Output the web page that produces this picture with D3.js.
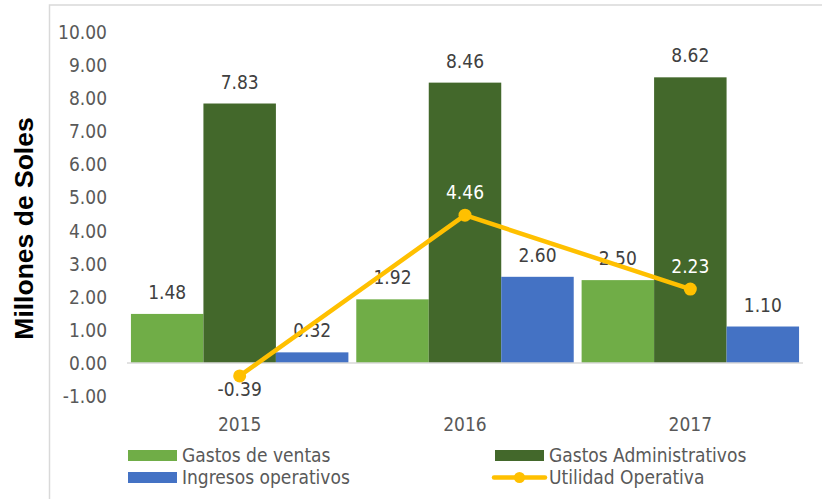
<!DOCTYPE html>
<html>
<head>
<meta charset="utf-8">
<script src="https://cdn.jsdelivr.net/npm/d3@7"></script>
<style>
  body { margin: 0; background: #fff; }
  svg text {
    font-family: 'DejaVu Sans Condensed', 'DejaVu Sans', sans-serif;
    font-stretch: condensed;
  }
</style>
</head>
<body>
<svg class="chart"></svg>
<script>
// Data
var years = ['2015', '2016', '2017'];
var gastosVentas = [1.48, 1.92, 2.50];
var gastosAdmin = [7.83, 8.46, 8.62];
var ingresosOp = [0.32, 2.60, 1.10];
var utilidadOp = [-0.39, 4.46, 2.23];
var yTicks = [-1, 0, 1, 2, 3, 4, 5, 6, 7, 8, 9, 10];

var barSeries = [
  {name: 'Gastos de ventas', values: gastosVentas, color: '#70AD47'},
  {name: 'Gastos Administrativos', values: gastosAdmin, color: '#43682B'},
  {name: 'Ingresos operativos', values: ingresosOp, color: '#4472C4'}
];
var lineColor = '#FFC000';

// Global setup
var width = 822;
var height = 499;
var plot = {left: 127, right: 803, top: 31.6, bottom: 396.1};

var svg = d3.select('.chart')
  .attr('width', width)
  .attr('height', height);

// Chart frame
svg.append('rect')
  .attr('x', 49.5)
  .attr('y', 5)
  .attr('width', width)
  .attr('height', height)
  .attr('fill', 'none')
  .attr('stroke', '#d9d9d9')
  .attr('stroke-width', 1.5);

// Scales
var x = d3.scaleBand()
  .domain(years)
  .range([plot.left, plot.right])
  .paddingInner(0.035)
  .paddingOuter(0.0175);

var xSub = d3.scaleBand()
  .domain(barSeries.map(function (d) { return d.name; }))
  .range([0, x.bandwidth()]);

var y = d3.scaleLinear()
  .domain([-1, 10])
  .range([plot.bottom, plot.top]);

// Y axis labels (no line, no ticks), plain hyphen for negatives
var yAxis = d3.axisLeft(y)
  .tickValues(yTicks)
  .tickFormat(function (d) { return d.toFixed(2); })
  .tickSize(0)
  .tickPadding(0);

var yG = svg.append('g')
  .attr('transform', 'translate(107,0)')
  .call(yAxis);
yG.select('.domain').remove();
yG.selectAll('text')
  .attr('fill', '#595959')
  .attr('font-size', 19)
  .attr('dy', '0.35em');

// Axis title
svg.append('text')
  .attr('transform', 'translate(33,228.5) rotate(-90)')
  .attr('text-anchor', 'middle')
  .style('font-family', "'Liberation Sans', Arial, sans-serif")
  .style('font-stretch', 'normal')
  .attr('font-weight', 'bold')
  .attr('font-size', 26.5)
  .attr('fill', '#000')
  .text('Millones de Soles');

// Bars
var groups = svg.selectAll('.series')
  .data(barSeries)
  .enter()
  .append('g')
  .attr('class', 'series');

groups.selectAll('rect')
  .data(function (s) {
    return s.values.map(function (v, i) { return {name: s.name, year: years[i], value: v, color: s.color}; });
  })
  .enter()
  .append('rect')
  .attr('x', function (d) { return x(d.year) + xSub(d.name); })
  .attr('y', function (d) { return y(Math.max(0, d.value)); })
  .attr('width', xSub.bandwidth())
  .attr('height', function (d) { return Math.abs(y(d.value) - y(0)); })
  .attr('fill', function (d) { return d.color; });

// Zero line
svg.append('line')
  .attr('x1', plot.left)
  .attr('x2', plot.right)
  .attr('y1', y(0))
  .attr('y2', y(0))
  .attr('stroke', '#d9d9d9')
  .attr('stroke-width', 1.5);

// Bar labels
groups.selectAll('.bar-label')
  .data(function (s) {
    return s.values.map(function (v, i) { return {name: s.name, year: years[i], value: v}; });
  })
  .enter()
  .append('text')
  .attr('class', 'bar-label')
  .attr('x', function (d) { return x(d.year) + xSub(d.name) + xSub.bandwidth() / 2; })
  .attr('y', function (d) { return y(d.value) - 15; })
  .attr('text-anchor', 'middle')
  .attr('font-size', 19)
  .attr('fill', '#404040')
  .text(function (d) { return d.value.toFixed(2); });

// Line series
var cx = function (d, i) { return x(years[i]) + x.bandwidth() / 2; };

svg.append('path')
  .datum(utilidadOp)
  .attr('fill', 'none')
  .attr('stroke', lineColor)
  .attr('stroke-width', 4.5)
  .attr('stroke-linejoin', 'round')
  .attr('d', d3.line().x(cx).y(function (d) { return y(d); }));

svg.selectAll('.dot')
  .data(utilidadOp)
  .enter()
  .append('circle')
  .attr('class', 'dot')
  .attr('cx', cx)
  .attr('cy', function (d) { return y(d); })
  .attr('r', 6.5)
  .attr('fill', lineColor);

svg.selectAll('.line-label')
  .data(utilidadOp)
  .enter()
  .append('text')
  .attr('class', 'line-label')
  .attr('x', cx)
  .attr('y', function (d) { return d < 0 ? y(d) + 20 : y(d) - 16; })
  .attr('text-anchor', 'middle')
  .attr('font-size', 19)
  .attr('fill', function (d) { return d < 0 ? '#404040' : '#ffffff'; })
  .text(function (d) { return d.toFixed(2); });

// Category labels
svg.selectAll('.year')
  .data(years)
  .enter()
  .append('text')
  .attr('class', 'year')
  .attr('x', function (d) { return x(d) + x.bandwidth() / 2; })
  .attr('y', 431)
  .attr('text-anchor', 'middle')
  .attr('font-size', 19)
  .attr('fill', '#595959')
  .text(function (d) { return d; });

// Legend
var legendItems = [
  {name: barSeries[0].name, color: barSeries[0].color, type: 'bar', x: 128, y: 455.5},
  {name: barSeries[1].name, color: barSeries[1].color, type: 'bar', x: 495, y: 455.5},
  {name: barSeries[2].name, color: barSeries[2].color, type: 'bar', x: 128, y: 477.5},
  {name: 'Utilidad Operativa', color: lineColor, type: 'line', x: 495, y: 477.5}
];

var legend = svg.selectAll('.legend')
  .data(legendItems)
  .enter()
  .append('g')
  .attr('class', 'legend')
  .attr('transform', function (d) { return 'translate(' + d.x + ',' + d.y + ')'; });

legend.filter(function (d) { return d.type === 'bar'; })
  .append('rect')
  .attr('x', 0)
  .attr('y', -5.5)
  .attr('width', 49)
  .attr('height', 11)
  .attr('fill', function (d) { return d.color; });

var lineItem = legend.filter(function (d) { return d.type === 'line'; });
lineItem.append('line')
  .attr('x1', -1)
  .attr('x2', 50)
  .attr('stroke', function (d) { return d.color; })
  .attr('stroke-width', 4.5)
  .attr('stroke-linecap', 'round');
lineItem.append('circle')
  .attr('cx', 24.5)
  .attr('r', 5.5)
  .attr('fill', function (d) { return d.color; });

legend.append('text')
  .attr('x', 54)
  .attr('y', 0)
  .attr('dy', '0.35em')
  .attr('font-size', 19)
  .attr('fill', '#595959')
  .text(function (d) { return d.name; });
</script>
</body>
</html>
